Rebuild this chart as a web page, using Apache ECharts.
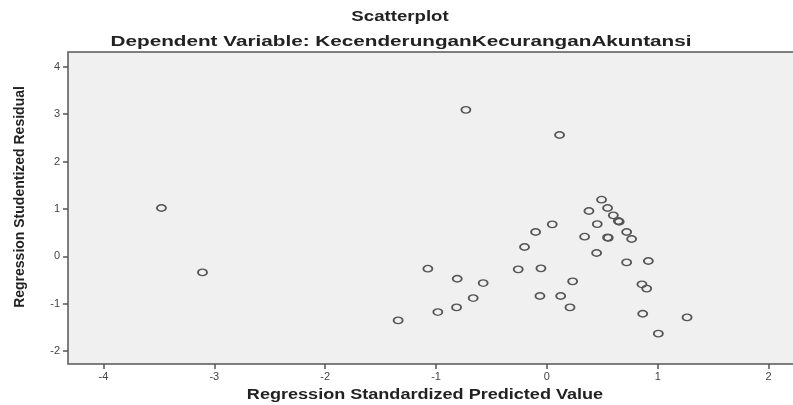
<!DOCTYPE html>
<html>
<head>
<meta charset="utf-8">
<script src="https://cdn.jsdelivr.net/npm/echarts@6/dist/echarts.min.js"></script>
<style>html,body{margin:0;padding:0;background:#fff}#c{width:793px;height:405px}</style>
</head>
<body>
<div id="c"></div>
<script>
var titleText = 'Scatterplot';
var subtitleText = 'Dependent Variable: KecenderunganKecuranganAkuntansi';
var xName = 'Regression Standardized Predicted Value';
var yName = 'Regression Studentized Residual';
var xTicks = [-4, -3, -2, -1, 0, 1, 2];
var yTicks = [-2, -1, 0, 1, 2, 3, 4];
var predicted = [-0.731, 0.114, 0.493, 0.547, 0.379, 0.599, 0.644, 0.652, 0.048, 0.454, -0.102, 0.719, 0.340, 0.547, 0.553, 0.764, -0.202, 0.448, 0.719, 0.915, -1.074, -0.259, -0.054, -0.809, -0.575, 0.232, 0.857, 0.900, -0.665, -0.063, 0.124, -0.815, 0.208, -0.984, 0.864, 1.264, -1.342, 1.005, -3.477, -3.107];
var residual = [3.09, 2.56, 1.196, 1.02, 0.956, 0.865, 0.745, 0.73, 0.675, 0.68, 0.513, 0.513, 0.415, 0.40, 0.39, 0.366, 0.197, 0.07, -0.127, -0.098, -0.26, -0.274, -0.253, -0.471, -0.563, -0.527, -0.59, -0.68, -0.88, -0.837, -0.837, -1.076, -1.076, -1.175, -1.21, -1.287, -1.35, -1.63, 1.02, -0.338];

var pts = predicted.map(function (x, i) { return [x, residual[i]]; });
var font = 'Liberation Sans, Arial, sans-serif';
var chart = echarts.init(document.getElementById('c'));
chart.setOption({
  animation: false,
  backgroundColor: '#ffffff',
  grid: { left: 68, top: 52, width: 745, height: 312, show: true, outerBoundsMode: 'none',
    containLabel: false,
    backgroundColor: '#f0f0f0', borderColor: '#555', borderWidth: 1.5 },
  xAxis: {
    type: 'value', min: -4.32, max: 2.4,
    axisLine: { show: false, onZero: false },
    splitLine: { show: false },
    axisTick: { show: true, customValues: xTicks, length: 5, lineStyle: { color: '#555', width: 1.5 } },
    axisLabel: { customValues: xTicks, fontFamily: font, fontSize: 11, color: '#444', margin: 7 }
  },
  yAxis: {
    type: 'value', min: -2.27, max: 4.31,
    axisLine: { show: false, onZero: false },
    splitLine: { show: false },
    axisTick: { show: true, customValues: yTicks, length: 5, lineStyle: { color: '#555', width: 1.5 } },
    axisLabel: { customValues: yTicks, fontFamily: font, fontSize: 11, color: '#444', margin: 8 }
  },
  graphic: [
    { type: 'text', x: 400, y: 17, scaleX: 1.33,
      style: { text: titleText, fontFamily: font, fontSize: 14, fontWeight: 'bold', fill: '#222', textAlign: 'center', textVerticalAlign: 'middle' } },
    { type: 'text', x: 401, y: 42, scaleX: 1.38,
      style: { text: subtitleText, fontFamily: font, fontSize: 15, fontWeight: 'bold', fill: '#222', textAlign: 'center', textVerticalAlign: 'middle' } },
    { type: 'text', x: 425, y: 395, scaleX: 1.29,
      style: { text: xName, fontFamily: font, fontSize: 14, fontWeight: 'bold', fill: '#222', textAlign: 'center', textVerticalAlign: 'middle' } },
    { type: 'text', x: 20, y: 197, rotation: Math.PI / 2,
      style: { text: yName, fontFamily: font, fontSize: 14, fontWeight: 'bold', fill: '#222', textAlign: 'center', textVerticalAlign: 'middle' } }
  ],
  series: [{
    type: 'scatter',
    data: pts,
    symbol: 'circle',
    symbolSize: [9, 6.5],
    itemStyle: { color: 'rgba(0,0,0,0)', borderColor: '#555', borderWidth: 1.6, opacity: 1 }
  }]
});
</script>
</body>
</html>
